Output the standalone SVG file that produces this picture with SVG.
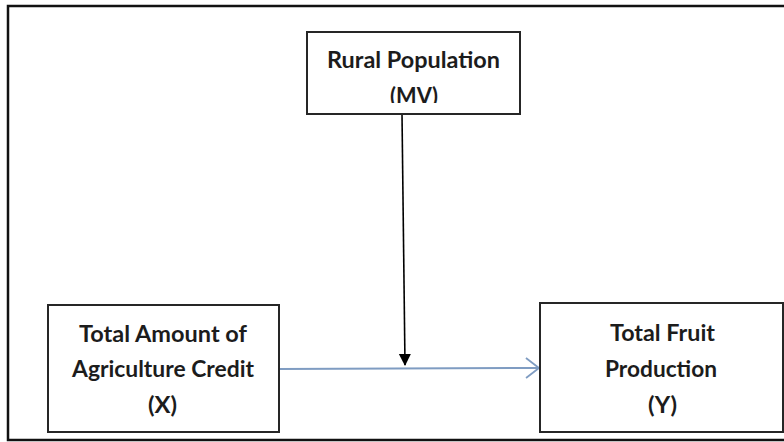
<svg xmlns="http://www.w3.org/2000/svg" width="784" height="442" viewBox="0 0 784 442">
  <style>
    .box { fill: #ffffff; stroke: #262626; stroke-width: 2; }
    .lbl { font-family: Lato, "Liberation Sans", Arial, sans-serif; font-weight: bold; font-size: 23px; fill: #1c1c1c; text-anchor: middle; }
  </style>
  <defs>
    <marker id="solidHead" markerWidth="12" markerHeight="16" refX="11" refY="6" orient="auto" markerUnits="userSpaceOnUse">
      <path d="M0,0 L12,6 L0,12 Z" fill="#000000"/>
    </marker>
    <marker id="openHead" markerWidth="16" markerHeight="24" refX="14" refY="11" orient="auto" markerUnits="userSpaceOnUse">
      <path d="M1,1 L14,11 L1,21" fill="none" stroke="#7f9cc2" stroke-width="1.8"/>
    </marker>
    <clipPath id="mvClip">
      <rect x="300" y="30" width="230" height="73"/>
    </clipPath>
  </defs>
  <rect x="0" y="0" width="784" height="442" fill="#ffffff"/>
  <path d="M786,6 H8 V440 H786" fill="none" stroke="#111111" stroke-width="2.5"/>

  <g id="connectors">
    <line x1="402" y1="114" x2="405" y2="365" stroke="#000000" stroke-width="1.6" marker-end="url(#solidHead)"/>
    <line x1="280" y1="369" x2="539" y2="368" stroke="#7f9cc2" stroke-width="2" marker-end="url(#openHead)"/>
  </g>

  <g id="rural">
    <rect class="box" x="307" y="32" width="213" height="82"/>
    <text class="lbl" x="413.5" y="68" textLength="173" lengthAdjust="spacingAndGlyphs">Rural Population</text>
    <text class="lbl" x="414" y="104" textLength="48" lengthAdjust="spacingAndGlyphs" clip-path="url(#mvClip)">(MV)</text>
  </g>

  <g id="credit">
    <rect class="box" x="48" y="305" width="231" height="127"/>
    <text class="lbl" x="163" y="342" textLength="168" lengthAdjust="spacingAndGlyphs">Total Amount of</text>
    <text class="lbl" x="163" y="377" textLength="182" lengthAdjust="spacingAndGlyphs">Agriculture Credit</text>
    <text class="lbl" x="162.5" y="413" textLength="29" lengthAdjust="spacingAndGlyphs">(X)</text>
  </g>

  <g id="fruit">
    <rect class="box" x="540" y="303" width="243" height="129"/>
    <text class="lbl" x="662.5" y="341" textLength="105" lengthAdjust="spacingAndGlyphs">Total Fruit</text>
    <text class="lbl" x="661" y="377" textLength="112" lengthAdjust="spacingAndGlyphs">Production</text>
    <text class="lbl" x="662.5" y="413" textLength="29" lengthAdjust="spacingAndGlyphs">(Y)</text>
  </g>
</svg>
